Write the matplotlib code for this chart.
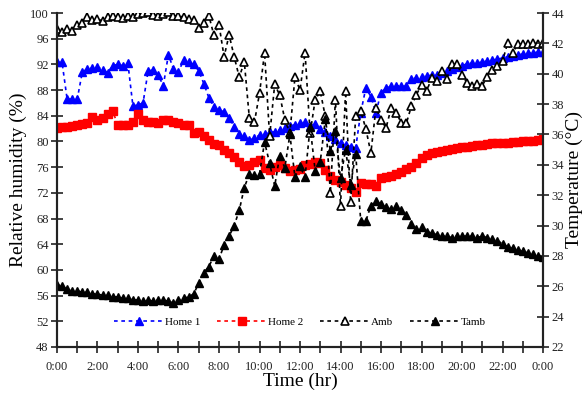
import numpy as np
import matplotlib
matplotlib.use('Agg')
import matplotlib.pyplot as plt

plt.rcParams['font.family'] = ['Liberation Serif', 'DejaVu Serif']

# time of day in hours, 15 min steps
hours = np.arange(0, 24.01, 0.25)

home1 = [92.3, 92.3, 86.6, 86.6, 86.6, 90.8, 91.3, 91.4, 91.6, 91.2, 90.7, 91.8,
         92.0, 91.8, 92.2, 85.5, 85.7, 86.0, 91.0, 91.1, 90.3, 88.7, 93.5, 91.3,
         90.8, 92.7, 92.3, 92.0, 91.0, 89.0, 86.8, 85.4, 84.9, 84.6, 83.7, 82.3,
         81.2, 80.8, 80.2, 80.5, 81.0, 81.2, 81.4, 81.5, 81.8, 82.1, 82.4, 82.6,
         82.8, 83.1, 82.4, 82.7, 82.0, 81.5, 80.9, 80.4, 79.7, 79.4, 79.2, 79.0,
         84.5, 88.3, 87.0, 84.5, 87.6, 88.3, 88.6, 88.7, 88.6, 88.6, 89.7, 89.9,
         90.1, 90.2, 90.3, 90.3, 90.6, 90.9, 91.3, 91.6, 91.8, 92.1, 92.2, 92.2,
         92.4, 92.5, 92.7, 92.8, 93.0, 93.2, 93.3, 93.5, 93.6, 93.7, 93.8, 93.9,
         93.9]

home2 = [82.1, 82.2, 82.3, 82.4, 82.5, 82.7, 82.9, 83.8, 83.3, 83.6, 84.2, 84.7,
         82.6, 82.5, 82.6, 83.1, 84.2, 83.3, 83.1, 83.0, 82.9, 83.3, 83.3, 83.0,
         82.8, 82.6, 82.5, 81.3, 81.5, 80.8, 80.2, 79.6, 79.4, 78.7, 78.2, 77.6,
         76.8, 76.2, 76.4, 76.8, 77.1, 75.8, 75.6, 76.0, 76.4, 75.8, 75.4, 75.6,
         75.7, 76.3, 76.5, 76.8, 76.6, 75.6, 74.6, 74.0, 73.7, 73.2, 72.8, 72.2,
         73.5, 73.4, 73.3, 73.0, 74.3, 74.4, 74.6, 74.9, 75.3, 75.7, 76.1, 76.6,
         77.4, 77.9, 78.2, 78.4, 78.5, 78.7, 78.8, 79.0, 79.1, 79.2, 79.3, 79.5,
         79.5, 79.6, 79.7, 79.7, 79.8, 79.8, 79.9, 79.9, 80.0, 80.0, 80.1, 80.2,
         80.4]

amb = [97.5, 97.0, 97.5, 97.2, 98.2, 98.5, 99.4, 98.9, 99.0, 98.8, 99.3, 99.5,
       99.3, 99.2, 99.6, 99.4, 99.9, 100.0, 100.2, 99.7, 99.6, 99.9, 100.1, 99.5,
       99.6, 99.3, 99.0, 98.9, 97.6, 98.4, 99.6, 96.5, 98.2, 93.2, 96.6, 93.2,
       90.0, 92.4, 83.6, 83.0, 87.5, 93.8, 80.8, 88.9, 87.2, 83.4, 81.3, 90.0,
       88.0, 93.8, 81.3, 86.5, 87.8, 83.9, 72.0, 86.5, 69.9, 87.8, 70.5, 83.9,
       84.7, 82.0, 78.2, 85.2, 83.4, 82.1, 85.2, 84.5, 82.9, 82.8, 85.5, 87.3,
       88.8, 87.8, 89.9, 89.4, 90.9, 89.8, 92.0, 92.0, 90.4, 89.1, 88.6, 89.0,
       88.7, 90.1, 91.2, 91.7, 92.5, 95.3, 93.7, 95.2, 95.1, 95.2, 95.3, 95.2,
       95.3]

tamb = [26.1, 26.0, 25.8, 25.7, 25.7, 25.6, 25.6, 25.5, 25.5, 25.4, 25.4, 25.3,
        25.3, 25.2, 25.2, 25.1, 25.1, 25.0, 25.1, 25.0, 25.1, 25.1, 25.0, 24.9,
        25.1, 25.2, 25.3, 25.5, 26.2, 26.9, 27.3, 28.0, 27.8, 28.7, 29.3, 30.0,
        31.0, 32.5, 33.4, 33.3, 33.4, 35.5, 34.1, 32.6, 34.6, 33.8, 36.0, 33.2,
        33.9, 33.2, 36.5, 33.6, 34.2, 37.0, 34.9, 36.2, 33.1, 35.0, 32.7, 34.7,
        30.3, 30.3, 31.3, 31.6, 31.4, 31.2, 31.1, 31.3, 31.0, 30.7, 30.1, 29.8,
        29.9, 29.6, 29.5, 29.4, 29.3, 29.3, 29.2, 29.3, 29.3, 29.3, 29.3, 29.2,
        29.3, 29.2, 29.1, 29.0, 28.8, 28.6, 28.5, 28.4, 28.3, 28.2, 28.1, 28.0,
        27.9]

xtick_labels = ['0:00', '2:00', '4:00', '6:00', '8:00', '10:00', '12:00',
                '14:00', '16:00', '18:00', '20:00', '22:00', '0:00']

fig = plt.figure(figsize=(5.84, 3.94), dpi=100)
ax = fig.add_axes([0.0976, 0.1193, 0.8322, 0.8477])
ax2 = ax.twinx()

dash = (0, (2.2, 2.2))
l1, = ax.plot(hours, home1, color='#0000ff', linestyle=dash, linewidth=1.2,
              marker='^', markersize=5.5, label='Home 1')
l2, = ax.plot(hours, home2, color='#ff0000', linestyle=dash, linewidth=1.2,
              marker='s', markersize=5.5, label='Home 2')
l3, = ax.plot(hours, amb, color='black', linestyle=dash, linewidth=1.2,
              marker='^', markersize=5.5, markerfacecolor='white',
              markeredgewidth=1.2, label='Amb')
l4, = ax2.plot(hours, tamb, color='black', linestyle=dash, linewidth=1.2,
               marker='^', markersize=5.5, label='Tamb')

ax.set_xlim(0, 24)
ax.set_ylim(48, 100)
ax2.set_ylim(22, 44)
ax.set_xticks(np.arange(0, 25, 2))
ax.set_xticklabels(xtick_labels)
ax.set_xticks(np.arange(0, 25, 1), minor=True)
ax.set_yticks(np.arange(48, 101, 4))
ax2.set_yticks(np.arange(22, 45, 2))

for a in (ax, ax2):
    a.spines['top'].set_visible(False)
    for s in a.spines.values():
        s.set_linewidth(1.5)
        s.set_color('#222222')
    a.tick_params(which='both', direction='inout', length=8, width=1.2,
                  labelsize=9, colors='#222222', pad=2)
ax.tick_params(axis='x', which='both', pad=6)

ax.set_xlabel('Time (hr)', fontsize=14, labelpad=0)
ax.set_ylabel('Relative humidity (%)', fontsize=14, labelpad=2)
ax2.set_ylabel('Temperature (\u00b0C)', fontsize=14, labelpad=1)

ax.legend(handles=[l1, l2, l3, l4], loc='lower center', ncol=4, frameon=False,
          fontsize=8, handlelength=4.5, columnspacing=1.5, handletextpad=0.1,
          bbox_to_anchor=(0.5, 0.03))

fig.savefig('out.png', dpi=100)
